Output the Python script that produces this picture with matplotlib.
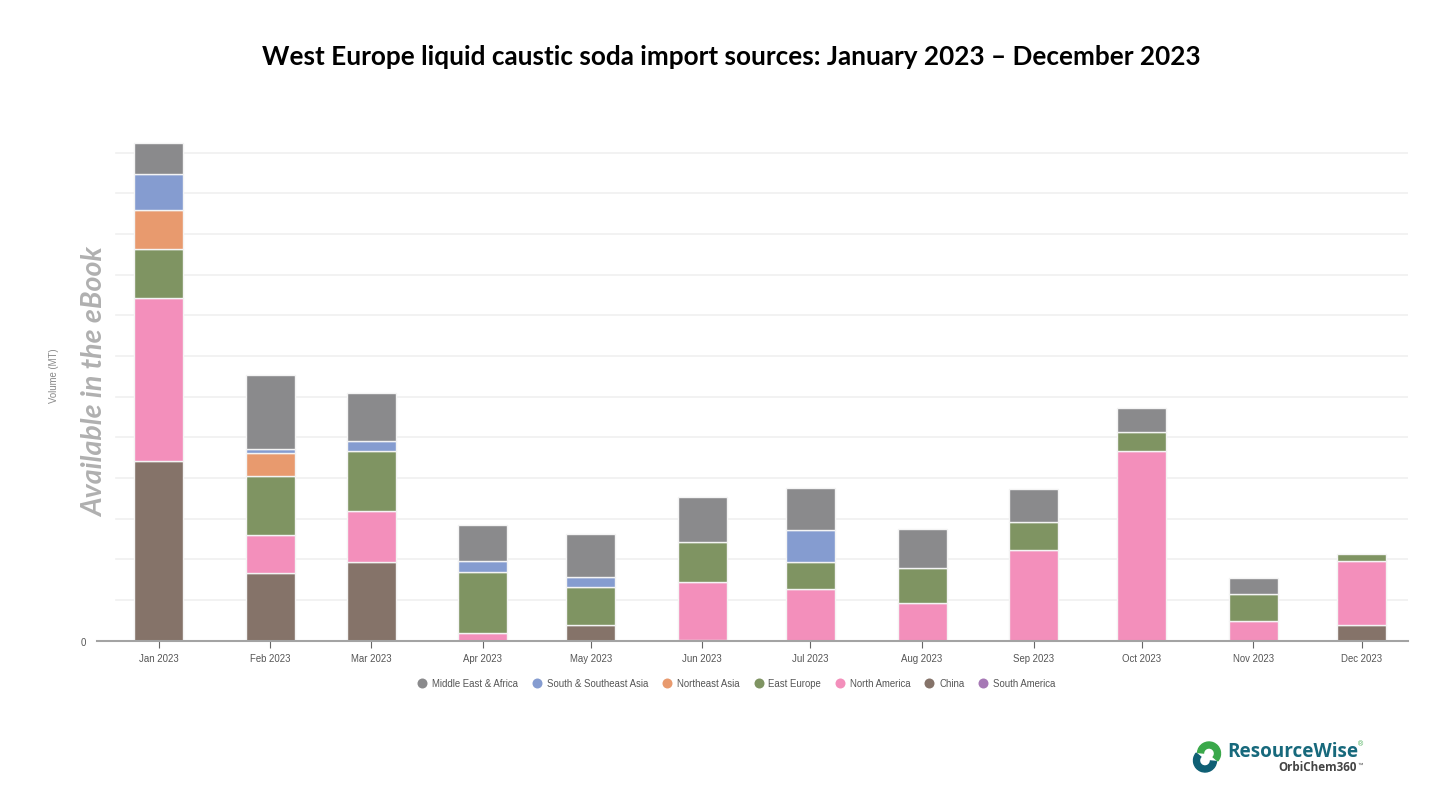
import matplotlib
matplotlib.use("Agg")
import matplotlib.pyplot as plt
import matplotlib.dates as mdates
from matplotlib.lines import Line2D
from matplotlib.patches import Wedge, Circle
import numpy as np
from datetime import date

W, H = 1448, 803

months = ["Jan 2023", "Feb 2023", "Mar 2023", "Apr 2023", "May 2023", "Jun 2023",
          "Jul 2023", "Aug 2023", "Sep 2023", "Oct 2023", "Nov 2023", "Dec 2023"]
month_starts = [date(2023, m, 1) for m in range(1, 13)]

# Stacked bottom to top (vertical axis carries no numbers, so units are grid steps x 10)
china       = [44.3, 16.7, 19.4, 0.0, 3.9, 0.2, 0.0, 0.0, 0.0, 0.0, 0.0, 3.9]
south_am    = [0.0] * 12
north_am    = [39.9, 9.3, 12.5, 2.0, 0.0, 14.3, 12.8, 9.3, 22.4, 46.7, 4.9, 15.7]
east_europe = [12.1, 14.5, 14.8, 14.8, 9.3, 9.8, 6.6, 8.6, 6.9, 4.7, 6.6, 1.7]
ne_asia     = [9.6, 5.7, 0.0, 0.0, 0.0, 0.0, 0.0, 0.0, 0.0, 0.0, 0.0, 0.0]
s_se_asia   = [8.9, 1.0, 2.5, 2.7, 2.5, 0.0, 7.9, 0.0, 0.0, 0.0, 0.0, 0.0]
mea         = [7.6, 18.2, 11.6, 8.9, 10.6, 11.1, 10.3, 9.6, 8.1, 5.7, 3.9, 0.0]

stack = [("China", china, "#857369"),
         ("South America", south_am, "#a678b5"),
         ("North America", north_am, "#f38fbb"),
         ("East Europe", east_europe, "#7f9462"),
         ("Northeast Asia", ne_asia, "#e89a6e"),
         ("South & Southeast Asia", s_se_asia, "#859cd0"),
         ("Middle East & Africa", mea, "#8a8a8c")]
legend_order = ["Middle East & Africa", "South & Southeast Asia", "Northeast Asia",
                "East Europe", "North America", "China", "South America"]
grid_values = list(range(10, 130, 10))

plt.rcParams["font.family"] = ["Liberation Sans", "DejaVu Sans"]
fig = plt.figure(figsize=(W / 100, H / 100), dpi=100, facecolor="white")
base_px = 641.7
ax = fig.add_axes([97 / W, (H - base_px) / H, (1408 - 97) / W, 501 / H])

px_day = (1361.5 - 158.5) / 334
x0 = mdates.date2num(date(2023, 1, 1))
xs = mdates.date2num(month_starts)
ax.set_xlim(x0 - (158.5 - 97) / px_day, x0 + 334 + (1408 - 1361.5) / px_day)
ax.set_ylim(0, 123.2)

grid_start = (116 - 97) / (1408 - 97)
for g in grid_values:
    ax.axhline(g, xmin=grid_start, xmax=1, color="#f0f0f0", lw=1.2, zorder=1)

bottom = np.zeros(12)
bar_w = 49 / px_day
for name, vals, col in stack:
    v = np.array(vals)
    mask = v > 0
    ax.bar(xs[mask], v[mask], width=bar_w, bottom=bottom[mask], color=col,
           edgecolor="#f4f4f4", linewidth=1.0, zorder=2)
    bottom += v

for s in ["top", "right", "left"]:
    ax.spines[s].set_visible(False)
ax.spines["bottom"].set_color("#a3a3a3")
ax.spines["bottom"].set_linewidth(1.5)
ax.spines["bottom"].set_zorder(5)

ax.set_xticks(xs)
ax.set_xticklabels(months)
ax.tick_params(axis="x", length=5, width=0.8, color="#666666", labelsize=6.9,
               labelcolor="#555555", pad=3.8)
ax.set_yticks([0])
ax.set_yticklabels(["0"])
ax.tick_params(axis="y", length=0, labelsize=6.9, labelcolor="#555555", pad=8)

colors = {n: c for n, _, c in stack}
handles = [Line2D([], [], ls="", marker="o", ms=7.2, mfc=colors[n], mec="none", label=n)
           for n in legend_order]
fig.legend(handles=handles, loc="center", bbox_to_anchor=(735 / W, (H - 684) / H), ncol=7,
           frameon=False, fontsize=6.9, labelcolor="#555555", columnspacing=1.2,
           handletextpad=0.2, handlelength=1.6)

fig.text(54 / W, (H - 376) / H, "Volume (MT)", rotation=90, ha="center", va="center",
         fontsize=6.9, color="#888888")
fig.text(95 / W, (H - 382) / H, "Available in the eBook", rotation=90, ha="center", va="center",
         fontsize=20.6, fontweight="bold", fontstyle="italic", color="#b0b0b0",
         family=["Lato", "DejaVu Sans"])
fig.text(731.5 / W, (H - 57) / H, "West Europe liquid caustic soda import sources: January 2023 \u2013 December 2023",
         ha="center", va="center", fontsize=18.8, fontweight="bold", color="black",
         family=["Lato", "DejaVu Sans"])

# Logo
lg = fig.add_axes([1190 / W, (H - 775) / H, 34 / W, 34 / H])
lg.set_xlim(-17, 17); lg.set_ylim(-17, 17); lg.axis("off"); lg.set_aspect("equal")
lg.add_patch(Wedge((2, 3.5), 11.5, -40, 175, width=6, color="#3aa84a"))
lg.add_patch(Wedge((-2, -3.5), 11.5, 140, 355, width=6, color="#0f5f74"))
fig.text(1227 / W, (H - 752) / H, "ResourceWise", ha="left", va="center", fontsize=13.6,
         fontweight="bold", color="#17697c", family=["Open Sans", "DejaVu Sans"])
fig.text(1358 / W, (H - 745) / H, "\u00ae", ha="left", va="center", fontsize=5, color="#3aa84a")
fig.text(1278 / W, (H - 768) / H, "OrbiChem360", ha="left", va="center", fontsize=8.4,
         fontweight="bold", color="#444444", family=["Open Sans", "DejaVu Sans"])
fig.text(1357 / W, (H - 765) / H, "\u2122", ha="left", va="center", fontsize=4, color="#444444")

fig.savefig("out.png", dpi=100, facecolor="white")
